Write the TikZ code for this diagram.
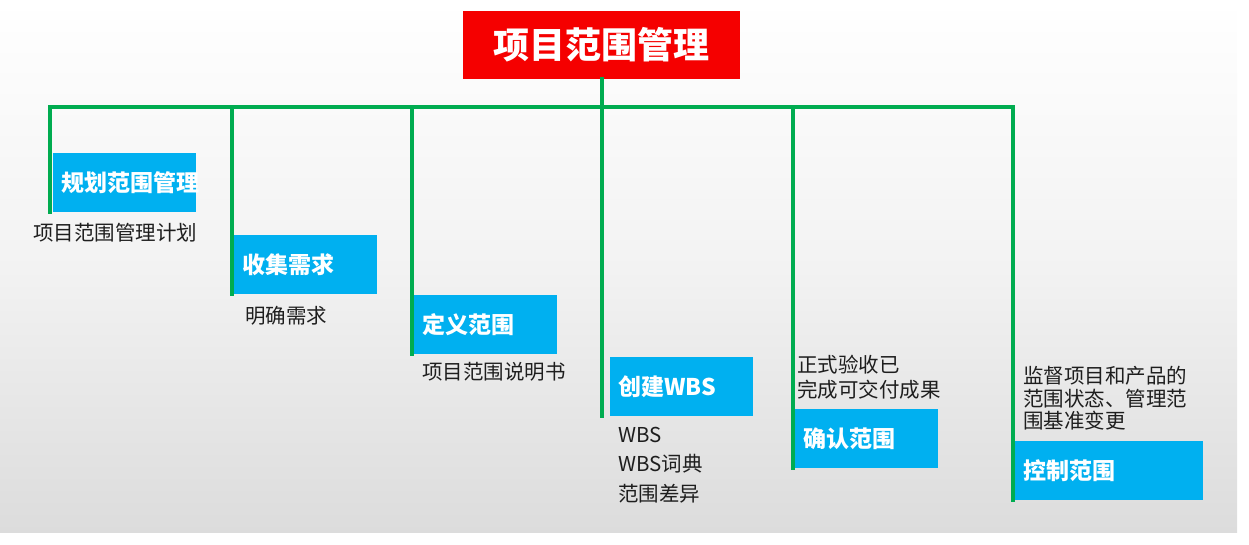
\documentclass[tikz,border=0pt]{standalone}
\usepackage{fontspec}
\setmainfont{Noto Sans CJK SC}
\usetikzlibrary{positioning}

\definecolor{titlered}{RGB}{245,0,0}
\definecolor{boxblue}{RGB}{0,176,240}
\definecolor{bargreen}{RGB}{0,172,80}
\definecolor{bggray}{RGB}{220,220,220}
\definecolor{labelgray}{RGB}{30,30,30}

\begin{document}
\begin{tikzpicture}[x=1pt, y=-1pt,
    titlebox/.style={fill=titlered, text=white, minimum width=277pt, minimum height=68pt,
      font=\fontsize{36}{40}\selectfont\bfseries},
    stepbox/.style={fill=boxblue, text=white, anchor=north west, inner xsep=8pt,
      text width=127pt, align=left, minimum height=59pt,
      font=\fontsize{23}{27}\selectfont\bfseries},
    outlabel/.style={text=labelgray, inner sep=0pt, align=left,
      font=\fontsize{20.5}{25}\selectfont},
    bar/.style={draw=bargreen, line width=3.5pt, line cap=rect}]

    \useasboundingbox (0,0) rectangle (1249,545);
    \fill[top color=white, bottom color=bggray, middle color=white!95!black] (0,0) rectangle (1237,532);

    % Nodes
    \node[titlebox] (root) at (601.5,45) {项目范围管理};

    \node[stepbox] (plan) at (53,153) {规划范围管理};
    \node[stepbox] (collect) at (234,235) {收集需求};
    \node[stepbox] (define) at (414,295) {定义范围};
    \node[stepbox] (wbs) at (610,357) {创建WBS};
    \node[stepbox] (validate) at (795,409) {确认范围};
    \node[stepbox, text width=172pt] (control) at (1015,441) {控制范围};

    % Outputs
    \node[outlabel, anchor=west] (planout) at (33,233) {项目范围管理计划};
    \node[outlabel, anchor=west] (collectout) at (245,316) {明确需求};
    \node[outlabel, anchor=west] (defineout) at (422,372) {项目范围说明书};
    \node[outlabel, anchor=north west, font=\fontsize{20.5}{29.5}\selectfont] (wbsout) at (618,427)
      {WBS\\WBS词典\\范围差异};
    \node[outlabel, anchor=north west] (validateout) at (797,355) {正式验收已\\完成可交付成果};
    \node[outlabel, anchor=north west, font=\fontsize{20.5}{22.5}\selectfont] (controlout) at (1023,366)
      {监督项目和产品的\\范围状态、管理范\\围基准变更};

    % Bar
    \coordinate (b1) at (50,107);
    \coordinate (b2) at (232,107);
    \coordinate (b3) at (412,107);
    \coordinate (b4) at (602,107);
    \coordinate (b5) at (793,107);
    \coordinate (b6) at (1013,107);

    \draw[bar] (root.south -| b4) -- (b4);
    \draw[bar] (b1) -- (b6);
    \draw[bar] (b1) -- (b1 |- plan.south);
    \draw[bar] (b2) -- (b2 |- collect.south);
    \draw[bar] (b3) -- (b3 |- define.south);
    \draw[bar] (b4) -- (b4 |- wbs.south);
    \draw[bar] (b5) -- (b5 |- validate.south);
    \draw[bar] (b6) -- (b6 |- control.south);

\end{tikzpicture}
\end{document}
